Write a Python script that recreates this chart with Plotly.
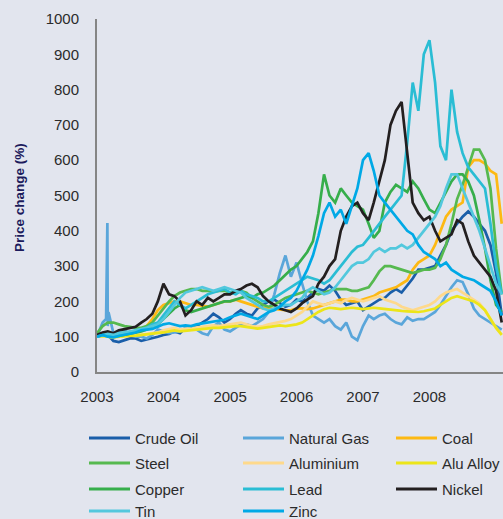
import plotly.graph_objects as go

months = [f"{2003 + m // 12}-{m % 12 + 1:02d}-01" for m in range(74)]

crude_oil = [100,108,105,88,85,90,95,95,88,92,95,100,
             105,108,115,110,125,120,130,140,150,165,155,140,
             150,165,175,165,160,180,190,200,205,195,185,190,
             205,200,210,225,235,230,245,230,205,190,195,200,
             175,185,195,205,210,225,235,225,245,265,290,290,
             295,300,330,360,400,420,440,455,440,420,400,360,
             280,160]
natural_gas = [100,140,130,110,115,120,105,100,100,95,105,120,
               115,110,112,115,125,130,120,110,105,130,140,120,
               115,125,135,135,130,140,150,170,220,280,330,270,
               310,250,200,160,150,140,150,130,120,140,100,90,
               130,160,150,160,165,150,140,135,155,145,150,150,
               160,170,190,215,240,260,255,220,180,160,150,140,
               130,120]
gas_spike_dates = ["2003-02-20", "2003-02-27", "2003-03-05"]
gas_spike_vals = [150, 422, 170]
coal = [100,102,105,105,108,110,112,115,120,130,150,175,
        190,195,200,200,195,190,190,188,185,190,195,200,
        200,205,200,195,190,185,180,180,178,175,175,175,
        180,180,178,180,185,190,195,200,205,205,200,200,
        205,210,215,225,230,235,240,250,260,290,310,320,
        330,360,400,440,460,470,480,580,600,600,590,570,
        560,420]
steel = [110,130,140,140,135,130,128,125,125,130,140,160,
         180,200,215,225,230,235,235,230,230,228,230,230,
         225,225,230,225,210,200,190,185,190,200,210,215,
         220,225,230,225,220,225,230,235,235,235,230,230,
         235,240,260,285,300,300,295,290,285,280,285,290,
         290,295,320,360,420,490,530,580,630,630,600,520,
         350,220]
aluminium = [100,102,100,98,100,102,103,105,105,108,110,112,
             118,122,125,120,122,125,125,128,130,132,130,132,
             135,138,140,135,130,128,130,135,138,140,145,150,
             160,170,185,200,195,190,195,200,195,205,210,205,
             200,205,210,215,205,200,195,185,180,175,180,185,
             190,200,215,225,230,235,225,215,205,195,175,150,
             125,105]
alu_alloy = [100,102,100,98,100,100,102,103,105,105,108,110,
             112,115,118,115,117,118,120,122,123,125,125,127,
             128,130,130,128,125,123,125,128,130,132,130,132,
             135,140,150,160,170,178,182,180,178,180,182,180,
             178,180,182,180,178,175,175,173,172,170,170,172,
             175,180,190,200,210,215,210,205,200,190,175,150,
             125,105]
copper = [100,105,105,100,102,105,110,112,115,120,130,135,
          150,165,180,190,175,170,175,180,185,190,195,200,
          200,205,210,215,210,220,225,235,245,260,275,290,
          300,320,340,370,450,560,500,480,520,500,480,470,
          460,420,380,400,480,510,530,520,510,540,520,490,
          460,450,480,510,540,560,560,540,500,430,350,260,
          190,170]
lead = [100,105,102,100,105,110,112,115,120,125,135,140,
        160,180,200,190,180,190,200,210,220,225,230,235,
        225,220,230,220,215,210,200,200,210,220,230,240,
        250,260,270,265,260,250,260,280,300,320,340,355,
        360,380,400,420,440,460,480,500,650,820,740,900,
        940,820,640,600,800,680,620,580,560,540,520,420,
        300,220]
nickel = [105,112,115,110,118,122,125,128,140,150,165,200,
          250,220,215,200,160,175,200,190,210,200,210,220,
          220,230,235,245,250,240,215,200,190,180,175,170,
          180,195,205,215,250,270,300,320,400,440,470,480,
          450,430,480,540,600,700,740,765,620,480,450,430,
          440,400,370,380,390,430,420,370,330,310,290,270,
          230,140]
tin = [100,105,108,105,110,112,115,118,120,125,130,135,
       150,170,190,210,225,230,235,240,235,230,235,240,
       235,230,225,210,200,190,180,175,180,185,190,190,
       200,210,230,240,230,220,225,240,260,280,300,310,
       310,320,340,350,340,350,350,360,350,360,380,400,
       420,440,470,520,560,560,520,480,440,400,350,300,
       250,220]
zinc = [100,105,100,98,102,105,108,112,118,120,122,128,
        135,138,135,130,132,130,135,138,140,142,145,148,
        155,160,165,160,155,150,160,170,175,185,200,210,
        230,260,290,330,385,450,480,440,460,420,470,520,
        600,620,570,500,480,460,440,420,400,390,360,340,
        330,320,300,310,290,280,270,265,260,250,240,230,
        200,160]

year_ticks = ["2003-01-01", "2004-01-01", "2005-01-01", "2006-01-01",
              "2007-01-01", "2008-01-01"]
year_labels = ["2003", "2004", "2005", "2006", "2007", "2008"]

# merge natural gas spike
gas_pairs = sorted(list(zip(months, natural_gas)) + list(zip(gas_spike_dates, gas_spike_vals)))
gas_x = [p[0] for p in gas_pairs]
gas_y = [p[1] for p in gas_pairs]

series = [
    ("Crude Oil", months, crude_oil, "#1a5ea9"),
    ("Natural Gas", gas_x, gas_y, "#5aa6da"),
    ("Coal", months, coal, "#fdb913"),
    ("Steel", months, steel, "#56b94f"),
    ("Aluminium", months, aluminium, "#fed98b"),
    ("Alu Alloy", months, alu_alloy, "#ece519"),
    ("Copper", months, copper, "#36ae4b"),
    ("Lead", months, lead, "#2abdd4"),
    ("Nickel", months, nickel, "#231f20"),
    ("Tin", months, tin, "#52c8dd"),
    ("Zinc", months, zinc, "#00a9e6"),
]

W, H = 503, 519
ML, MR, MT, MB = 97, 0, 19, 147
PW, PH = W - ML - MR, H - MT - MB

def px(X):
    return (X - ML) / PW

def py(Y):
    return (H - MB - Y) / PH

fig = go.Figure()
for name, xs, ys, col in series:
    fig.add_trace(go.Scatter(x=xs, y=ys, name=name, mode="lines",
                             line=dict(color=col, width=2.7),
                             showlegend=False))

bg = "#e2e5ee"
fam = "Liberation Sans, Arial, sans-serif"
font = dict(family=fam, size=15, color="#2b2b2b")

# legend grid: 3 columns, rows filled left to right
col_x = [89, 243, 396]
row_y = [438, 463, 489, 511]
shapes, annotations = [], []
for i, (name, _, _, col) in enumerate(series):
    cx = col_x[i % 3]
    ry = row_y[i // 3]
    shapes.append(dict(type="line", xref="paper", yref="paper",
                       x0=px(cx), x1=px(cx + 41), y0=py(ry), y1=py(ry),
                       line=dict(color=col, width=3)))
    annotations.append(dict(text=name, xref="paper", yref="paper",
                            x=px(cx + 44), y=py(ry), xanchor="left",
                            yanchor="middle", showarrow=False, font=font))

annotations.append(dict(text="<b>Price change (%)</b>", xref="paper", yref="paper",
                        x=px(20), y=py(198), textangle=-90, showarrow=False,
                        xanchor="center", yanchor="middle",
                        font=dict(family=fam, size=13.5, color="#1c1b5c")))

fig.update_layout(
    width=W, height=H,
    margin=dict(l=ML, r=MR, t=MT, b=MB),
    paper_bgcolor=bg, plot_bgcolor=bg,
    font=font,
    showlegend=False,
    xaxis=dict(type="date", range=["2003-01-01", "2009-02-08"],
               tickvals=year_ticks, ticktext=year_labels,
               showgrid=False, zeroline=False, showline=True,
               linecolor="#858585", linewidth=2, ticks="",
               ticklabelstandoff=10, automargin=False),
    yaxis=dict(range=[0, 1000], dtick=100, showgrid=False, zeroline=False,
               showline=True, linecolor="#858585", linewidth=2, ticks="",
               ticklabelstandoff=13, automargin=False),
    shapes=shapes,
    annotations=annotations,
)

page_css = ("document.body.style.margin='0';"
            "document.body.style.padding='0';"
            "document.body.style.overflow='hidden';"
            "document.body.style.background='" + bg + "';")

fig.write_html("out.html", post_script=page_css,
               config={"displayModeBar": False})
